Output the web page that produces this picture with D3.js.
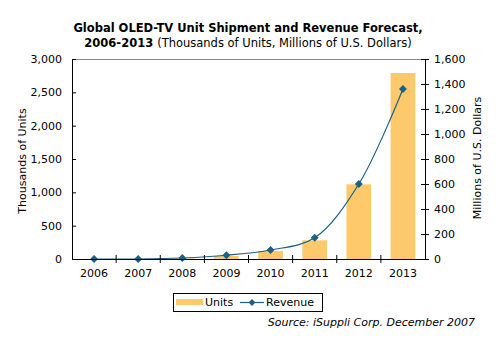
<!DOCTYPE html>
<html>
<head>
<meta charset="utf-8">
<script src="https://cdn.jsdelivr.net/npm/d3@7"></script>
<style>
  body { margin: 0; background: #fff; }
  svg { display: block; font-family: "DejaVu Sans", Verdana, sans-serif; }
</style>
</head>
<body>
<div id="chart"></div>
<script>
const years = ["2006", "2007", "2008", "2009", "2010", "2011", "2012", "2013"];
const units = [0, 0, 8, 45, 120, 280, 1120, 2790];
const revenue = [0, 0, 8, 30, 72, 170, 600, 1360];
const unitTicks = [0, 500, 1000, 1500, 2000, 2500, 3000];
const revenueTicks = [0, 200, 400, 600, 800, 1000, 1200, 1400, 1600];

const size = { x: 496, y: 340 };
const margin = { top: 59, bottom: 81, left: 72, right: 71 };
const innerSize = { x: size.x - margin.left - margin.right, y: size.y - margin.top - margin.bottom };

const barColor = "#fdc96b";
const lineColor = "#1b6185";

const svg = d3.select("#chart")
  .append("svg")
  .attr("width", size.x)
  .attr("height", size.y);

// title
const title = svg.append("text")
  .attr("x", 248)
  .attr("text-anchor", "middle")
  .attr("font-size", "11.5px")
  .attr("fill", "#000");
title.append("tspan").attr("x", 248).attr("y", 32).attr("font-weight", 700)
  .text("Global OLED-TV Unit Shipment and Revenue Forecast,");
title.append("tspan").attr("x", 248).attr("y", 47).attr("font-weight", 700).text("2006-2013 ");
title.append("tspan").text("(Thousands of Units, Millions of U.S. Dollars)");

const xScale = d3.scaleBand()
  .domain(years)
  .range([0, innerSize.x])
  .paddingInner(0.44)
  .paddingOuter(0.22);

const yLeft = d3.scaleLinear().domain([0, 3000]).range([innerSize.y, 0]);
const yRight = d3.scaleLinear().domain([0, 1600]).range([innerSize.y, 0]);

const g = svg.append("g").attr("transform", `translate(${margin.left},${margin.top})`);

// top border
g.append("line")
  .attr("x1", 0).attr("x2", innerSize.x)
  .attr("y1", 0.5).attr("y2", 0.5)
  .attr("stroke", "#888");

// bars
g.append("g")
  .selectAll("rect")
  .data(years.map((y, i) => [y, units[i]]))
  .enter()
  .append("rect")
  .attr("x", d => xScale(d[0]))
  .attr("y", d => yLeft(d[1]))
  .attr("width", xScale.bandwidth())
  .attr("height", d => innerSize.y - yLeft(d[1]))
  .attr("fill", barColor);

// revenue line
const cx = d => xScale(d[0]) + xScale.bandwidth() / 2;
const lineData = years.map((y, i) => [y, revenue[i]]);
g.append("path")
  .datum(lineData)
  .attr("fill", "none")
  .attr("stroke", lineColor)
  .attr("stroke-width", 1.2)
  .attr("d", d3.line().x(cx).y(d => yRight(d[1])).curve(d3.curveCatmullRom.alpha(0.5)));

g.append("g")
  .selectAll("path")
  .data(lineData)
  .enter()
  .append("path")
  .attr("transform", d => `translate(${cx(d)},${yRight(d[1])})`)
  .attr("d", d3.symbol(d3.symbolDiamond2, 40)())
  .attr("fill", lineColor);

// axes
const styleAxis = sel => {
  sel.attr("font-size", "11px").attr("font-family", "DejaVu Sans, Verdana, sans-serif");
  sel.selectAll("text").attr("fill", "#000");
  sel.selectAll("line, path").attr("stroke", "#000");
};

const leftAxis = g.append("g")
  .call(d3.axisLeft(yLeft).tickValues(unitTicks).tickFormat(d3.format(",")).tickSizeInner(4).tickSizeOuter(0).tickPadding(6))
  .call(styleAxis);
leftAxis.selectAll(".tick line").attr("x2", 4);
leftAxis.selectAll(".tick text").attr("x", -10);

const rightAxis = g.append("g")
  .attr("transform", `translate(${innerSize.x},0)`)
  .call(d3.axisRight(yRight).tickValues(revenueTicks).tickFormat(d3.format(",")).tickSizeInner(4).tickSizeOuter(0).tickPadding(6))
  .call(styleAxis);
rightAxis.selectAll(".tick line").attr("x1", -4);
rightAxis.selectAll(".tick text").attr("x", 9);

const bottomAxis = g.append("g")
  .attr("transform", `translate(0,${innerSize.y})`)
  .call(d3.axisBottom(xScale).tickSize(0).tickPadding(10))
  .call(styleAxis);
bottomAxis.select(".domain").attr("d", `M0,0.5H${innerSize.x}`);
// category separators
bottomAxis.append("g")
  .selectAll("line")
  .data(years.slice(1))
  .enter()
  .append("line")
  .attr("x1", d => xScale(d) - xScale.step() * xScale.paddingInner() / 2)
  .attr("x2", d => xScale(d) - xScale.step() * xScale.paddingInner() / 2)
  .attr("y1", -4).attr("y2", 4)
  .attr("stroke", "#000");

// axis titles
svg.append("text")
  .text("Thousands of Units")
  .attr("transform", `translate(26,${margin.top + innerSize.y / 2 + 2}) rotate(-90)`)
  .attr("text-anchor", "middle")
  .attr("font-size", "11px");

svg.append("text")
  .text("Millions of U.S. Dollars")
  .attr("transform", `translate(481,${margin.top + innerSize.y / 2 - 1}) rotate(-90)`)
  .attr("text-anchor", "middle")
  .attr("font-size", "11px");

// legend
const legend = svg.append("g").attr("transform", "translate(173,293)");
legend.append("rect")
  .attr("x", 0.5).attr("y", 0.5)
  .attr("width", 149).attr("height", 18)
  .attr("fill", "#fff").attr("stroke", "#000");
legend.append("rect")
  .attr("x", 3).attr("y", 6)
  .attr("width", 27).attr("height", 6)
  .attr("fill", barColor);
legend.append("text").text("Units")
  .attr("x", 32).attr("y", 13).attr("font-size", "11px");
legend.append("line")
  .attr("x1", 67).attr("x2", 91).attr("y1", 9.5).attr("y2", 9.5)
  .attr("stroke", lineColor).attr("stroke-width", 1.2);
legend.append("path")
  .attr("transform", "translate(79,9.5)")
  .attr("d", d3.symbol(d3.symbolDiamond2, 30)())
  .attr("fill", lineColor);
legend.append("text").text("Revenue")
  .attr("x", 93).attr("y", 13).attr("font-size", "11px");

// source
svg.append("text")
  .text("Source: iSuppli Corp. December 2007")
  .attr("x", 475).attr("y", 326)
  .attr("text-anchor", "end")
  .attr("font-style", "italic")
  .attr("font-size", "11px");
</script>
</body>
</html>
